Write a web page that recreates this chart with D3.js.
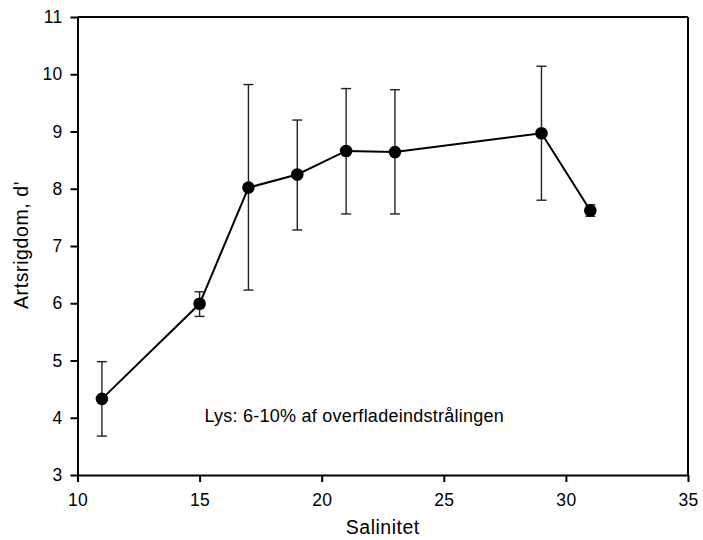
<!DOCTYPE html>
<html>
<head>
<meta charset="utf-8">
<script src="https://cdn.jsdelivr.net/npm/d3@7"></script>
<style>
  body { margin: 0; background: #fff; }
  svg { font-family: "Liberation Sans", Arial, Helvetica, sans-serif; }
</style>
</head>
<body>
<div id="chart"></div>
<script>
var salinity = [11, 15, 17, 19, 21, 23, 29, 31];
var richness = [4.33, 5.99, 8.02, 8.25, 8.66, 8.64, 8.97, 7.62];
var errHigh = [4.98, 6.20, 9.82, 9.20, 9.75, 9.73, 10.14, 7.72];
var errLow = [3.68, 5.77, 6.23, 7.28, 7.56, 7.56, 7.80, 7.52];
var xTicks = [10, 15, 20, 25, 30, 35];
var yTicks = [3, 4, 5, 6, 7, 8, 9, 10, 11];

var data = salinity.map(function(s, i) {
  return { x: s, y: richness[i], hi: errHigh[i], lo: errLow[i] };
});

var margin = { top: 17, right: 15, bottom: 65, left: 77.5 },
  width = 703 - margin.left - margin.right,
  height = 540 - margin.top - margin.bottom;

var x = d3.scaleLinear().domain([10, 35]).range([0, width]);
var y = d3.scaleLinear().domain([3, 11]).range([height, 0]);

var svg = d3.select("#chart")
  .append("svg")
  .attr("width", 703)
  .attr("height", 540)
  .append("g")
  .attr("transform", "translate(" + margin.left + "," + margin.top + ")");

// frame (top and right sides)
svg.append("line")
  .attr("x1", 0).attr("x2", width).attr("y1", 0).attr("y2", 0)
  .attr("stroke", "#000").attr("stroke-width", 2);
svg.append("line")
  .attr("x1", width).attr("x2", width).attr("y1", 0).attr("y2", height)
  .attr("stroke", "#000").attr("stroke-width", 2);

var xAxis = d3.axisBottom(x).tickValues(xTicks).tickSizeInner(7).tickSizeOuter(0).tickPadding(12);
var yAxis = d3.axisLeft(y).tickValues(yTicks).tickSizeInner(7).tickSizeOuter(0).tickPadding(8);

svg.append("g")
  .attr("class", "x axis")
  .attr("transform", "translate(0," + height + ")")
  .call(xAxis);

svg.append("g")
  .attr("class", "y axis")
  .call(yAxis);

svg.selectAll(".axis path, .axis line")
  .attr("stroke", "#000")
  .attr("stroke-width", 2);
svg.selectAll(".axis text")
  .attr("fill", "#000")
  .style("font-size", "17.5px")
  .style("letter-spacing", "0.3px");

// error bars
var bars = svg.selectAll(".err")
  .data(data)
  .enter()
  .append("g")
  .attr("class", "err")
  .attr("stroke", "#222")
  .attr("stroke-width", 1.4);

bars.append("line")
  .attr("x1", function(d) { return x(d.x); })
  .attr("x2", function(d) { return x(d.x); })
  .attr("y1", function(d) { return y(d.hi); })
  .attr("y2", function(d) { return y(d.lo); });

bars.append("line")
  .attr("x1", function(d) { return x(d.x) - 5; })
  .attr("x2", function(d) { return x(d.x) + 5; })
  .attr("y1", function(d) { return y(d.hi); })
  .attr("y2", function(d) { return y(d.hi); });

bars.append("line")
  .attr("x1", function(d) { return x(d.x) - 5; })
  .attr("x2", function(d) { return x(d.x) + 5; })
  .attr("y1", function(d) { return y(d.lo); })
  .attr("y2", function(d) { return y(d.lo); });

// line
var line = d3.line()
  .x(function(d) { return x(d.x); })
  .y(function(d) { return y(d.y); });

svg.append("path")
  .datum(data)
  .attr("fill", "none")
  .attr("stroke", "#000")
  .attr("stroke-width", 2)
  .attr("d", line);

svg.selectAll(".dot")
  .data(data)
  .enter()
  .append("circle")
  .attr("class", "dot")
  .attr("cx", function(d) { return x(d.x); })
  .attr("cy", function(d) { return y(d.y); })
  .attr("r", 6.3)
  .attr("fill", "#000");

// annotation
svg.append("text")
  .attr("x", x(15.2))
  .attr("y", y(3.93))
  .style("font-size", "18px")
  .style("letter-spacing", "0.25px")
  .text("Lys: 6-10% af overfladeindstrålingen");

// axis titles
svg.append("text")
  .attr("x", width / 2)
  .attr("y", height + 59)
  .attr("text-anchor", "middle")
  .style("font-size", "19.5px")
  .style("letter-spacing", "0.5px")
  .text("Salinitet");

svg.append("text")
  .attr("transform", "rotate(-90)")
  .attr("x", -height / 2 + 1)
  .attr("y", -50)
  .attr("text-anchor", "middle")
  .style("font-size", "19.5px")
  .style("letter-spacing", "0.6px")
  .text("Artsrigdom, d'");
</script>
</body>
</html>
